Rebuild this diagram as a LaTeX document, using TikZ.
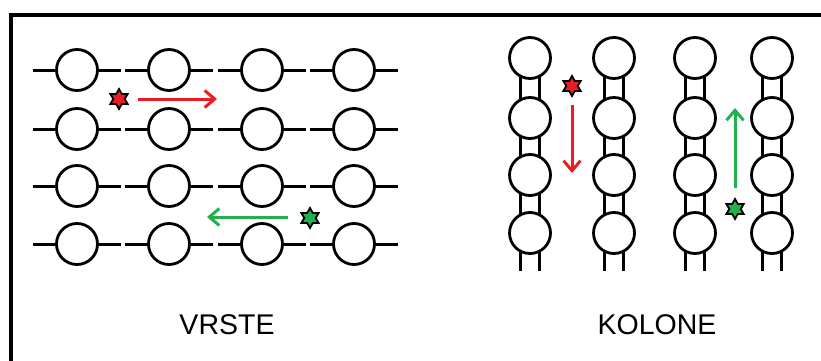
\documentclass[tikz,border=0pt]{standalone}
\usepackage{fontspec}
\setmainfont{Liberation Sans}
\usetikzlibrary{shapes.geometric,arrows.meta}
\pgfdeclarelayer{bg}
\pgfdeclarelayer{paper}
\pgfsetlayers{paper,bg,main}
\definecolor{pred}{RGB}{237,28,36}
\definecolor{pgreen}{RGB}{34,177,76}
\begin{document}
\begin{tikzpicture}[x=1pt,y=-1pt,
  bead/.style={circle,draw=black,fill=white,line width=2.8pt,minimum size=41pt,inner sep=0pt},
  stub/.style={draw=black,line width=3pt},
  frameline/.style={draw=black,line width=4.5pt},
  starmark/.style={star,star points=6,star point ratio=1.75,minimum size=20pt,inner sep=0pt,draw=black,line width=1.8pt},
  movearrow/.style={line width=3pt,-{Straight Barb[length=10pt,width=17pt,line width=3pt]}},
  label/.style={font=\fontsize{28.5}{33}\selectfont,inner sep=0pt}]
\useasboundingbox (0,0) rectangle (821,361);
\begin{pgfonlayer}{paper}
\fill[white] (0,0) rectangle (821,361);
\end{pgfonlayer}
% frame
\coordinate (fa) at (11,361);
\coordinate (fb) at (11,15);
\coordinate (fc) at (821,15);
\draw[frameline] (fa) -- (fb) -- (fc);
% left grid (rows)
\foreach \r/\y in {1/70,2/129,3/186,4/244}{
  \foreach \c/\x in {1/77,2/169,3/262,4/354}{
    \coordinate (l\r\c) at (\x-44,\y);
    \coordinate (r\r\c) at (\x+44,\y);
    \node[bead] (v\r\c) at (\x,\y) {};
    \begin{pgfonlayer}{bg}
      \draw[stub] (v\r\c.center) -- (l\r\c);
      \draw[stub] (v\r\c.center) -- (r\r\c);
    \end{pgfonlayer}
  }
}
% right grid (columns)
\foreach \c/\x in {1/530,2/614,3/695,4/772}{
  \foreach \r/\y in {1/58,2/118,3/175,4/233}{
    \node[bead] (k\c\r) at (\x,\y) {};
  }
  \coordinate (e\c) at (\x,271);
  \begin{pgfonlayer}{bg}
    \foreach \a/\b in {1/2,2/3,3/4}{
      \draw[stub] ([xshift=-9.5pt]k\c\a.center) -- ([xshift=-9.5pt]k\c\b.center);
      \draw[stub] ([xshift=9.5pt]k\c\a.center) -- ([xshift=9.5pt]k\c\b.center);
    }
    \draw[stub] ([xshift=-9.5pt]k\c4.center) -- ([xshift=-9.5pt]e\c);
    \draw[stub] ([xshift=9.5pt]k\c4.center) -- ([xshift=9.5pt]e\c);
  \end{pgfonlayer}
}
% stars and arrows (rows)
\node[starmark,fill=pred] (s1) at (119,99) {};
\coordinate (a1s) at (138,99);
\coordinate (a1e) at (217,99);
\draw[movearrow,draw=pred] (a1s) -- (a1e);
\node[starmark,fill=pgreen] (s2) at (310,218) {};
\coordinate (a2s) at (288,217);
\coordinate (a2e) at (207,217);
\draw[movearrow,draw=pgreen] (a2s) -- (a2e);
% stars and arrows (columns)
\node[starmark,fill=pred] (s3) at (572,86) {};
\coordinate (a3s) at (572,105);
\coordinate (a3e) at (572,173);
\draw[movearrow,draw=pred] (a3s) -- (a3e);
\node[starmark,fill=pgreen] (s4) at (735,209) {};
\coordinate (a4s) at (735,188);
\coordinate (a4e) at (735,108);
\draw[movearrow,draw=pgreen] (a4s) -- (a4e);
% labels
\node[label] (t1) at (227,325) {VRSTE};
\node[label] (t2) at (657,325) {KOLONE};
\end{tikzpicture}
\end{document}
